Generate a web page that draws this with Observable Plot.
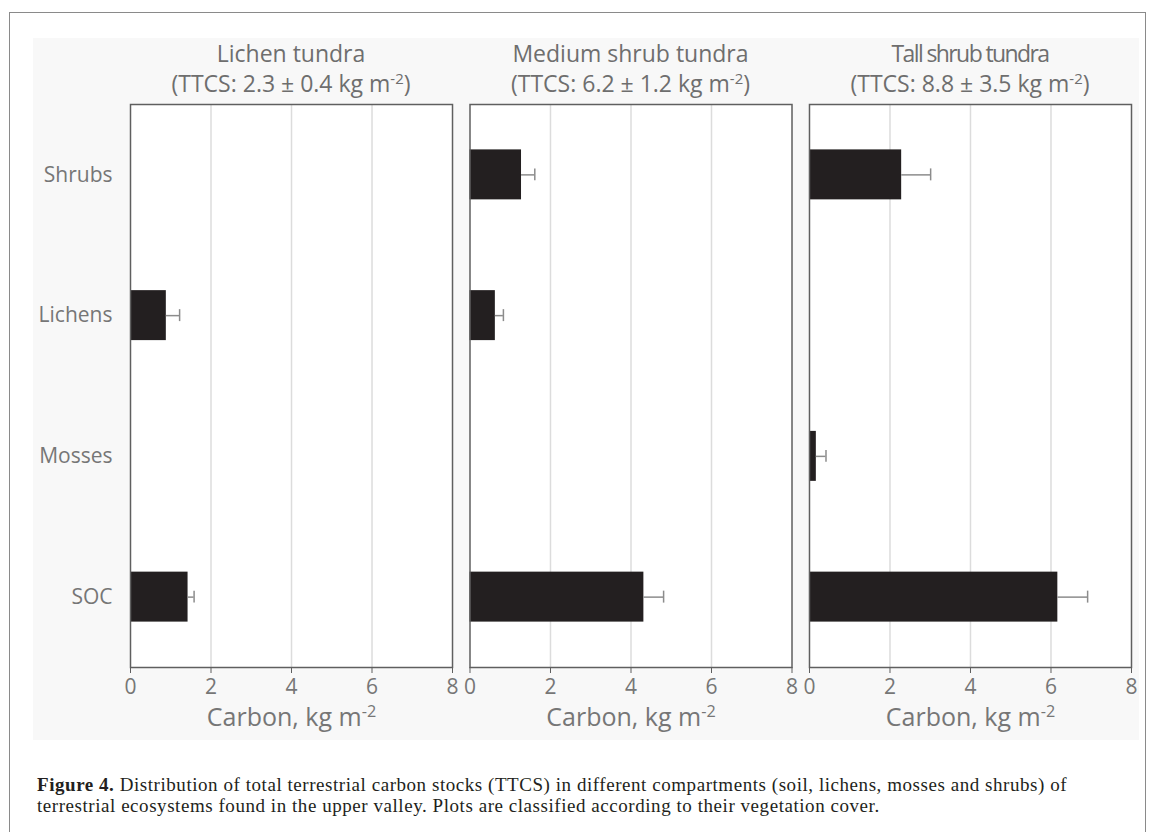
<!DOCTYPE html>
<html>
<head>
<meta charset="utf-8">
<script src="https://cdn.jsdelivr.net/npm/d3@7"></script>
<script src="https://cdn.jsdelivr.net/npm/@observablehq/plot@0.6"></script>
<style>
  body { margin: 0; background: #fff; width: 1153px; height: 832px; overflow: hidden; position: relative; font-family: "Open Sans", sans-serif; }
  #frame { position: absolute; left: 9px; top: 12px; width: 1137px; height: 900px; border: 1.5px solid #8a8a8a; box-sizing: border-box; }
  #bg { position: absolute; left: 33px; top: 38px; width: 1106px; height: 702px; background: #f8f8f8; }
  #chart { position: absolute; left: 0; top: 0; }
  .title { position: absolute; top: 38px; width: 360px; text-align: center; color: #6e6e6e; font-size: 23px; line-height: 30px; white-space: nowrap; }
  .title sup { font-size: 0.65em; vertical-align: 0.55em; line-height: 0; }
  .caption { position: absolute; left: 37px; font-family: "Liberation Serif", "DejaVu Serif", serif; font-size: 19px; letter-spacing: 0.55px; line-height: 20.5px; color: #231f20; white-space: nowrap; }
</style>
</head>
<body>
<div id="frame"></div>
<div id="bg"></div>
<div id="chart"></div>
<div id="titles"></div>
<div class="caption" id="cap1" style="top:775px"><b>Figure 4.</b> Distribution of total terrestrial carbon stocks (TTCS) in different compartments (soil, lichens, mosses and shrubs) of</div>
<div class="caption" id="cap2" style="top:795.5px">terrestrial ecosystems found in the upper valley. Plots are classified according to their vegetation cover.</div>
<script>
// ---- data ----
const panels = ["Lichen tundra", "Medium shrub tundra", "Tall shrub tundra"];
const ttcs = ["2.3 ± 0.4", "6.2 ± 1.2", "8.8 ± 3.5"];
const compartments = ["Shrubs", "Lichens", "Mosses", "SOC"];
const lichenTundra = [null, 0.89, null, 1.43];
const lichenTundraErr = [null, 0.33, null, 0.15];
const mediumShrub = [1.28, 0.63, null, 4.32];
const mediumShrubErr = [0.33, 0.20, null, 0.49];
const tallShrub = [2.29, null, 0.17, 6.17];
const tallShrubErr = [0.72, null, 0.24, 0.74];
const xTicks = [0, 2, 4, 6, 8];
const gridTicks = [2, 4, 6];
const axisLabel = "Carbon, kg m-2";

const series = [[lichenTundra, lichenTundraErr], [mediumShrub, mediumShrubErr], [tallShrub, tallShrubErr]];
const rows = [];
series.forEach(([vals, errs], i) => {
  vals.forEach((v, j) => {
    if (v != null) rows.push({panel: panels[i], compartment: compartments[j], value: v, err: errs[j]});
  });
});

const plot = Plot.plot({
  width: 1153,
  height: 760,
  marginTop: 104,
  marginBottom: 93,
  marginLeft: 130,
  marginRight: 22,
  style: {background: "transparent", fontFamily: "Open Sans, sans-serif", color: "#767676", overflow: "visible"},
  fx: {domain: panels, axis: null, paddingInner: 0.0515, paddingOuter: 0, round: false},
  x: {domain: [0, 8], label: null},
  y: {domain: compartments, paddingInner: 0.645, paddingOuter: 0.3225, round: false, label: null},
  marks: [
    Plot.frame({fill: "white", stroke: "none"}),
    Plot.ruleX(gridTicks, {stroke: "#dcdcdc", strokeWidth: 1.5}),
    Plot.barX(rows, {fx: "panel", y: "compartment", x: "value", fill: "#231f20"}),
    Plot.ruleY(rows, {fx: "panel", y: "compartment", x1: "value", x2: d => d.value + d.err, stroke: "#8c8c8c", strokeWidth: 1.5}),
    Plot.tickX(rows, {fx: "panel", y: "compartment", x: d => d.value + d.err, stroke: "#8c8c8c", strokeWidth: 1.5, insetTop: 19, insetBottom: 19}),
    Plot.frame({stroke: "#5f5f5f", strokeWidth: 1.5}),
    Plot.axisX({ticks: xTicks, tickSize: 6, tickPadding: 6, fontSize: 21, stroke: "#5f5f5f", label: null}),
    Plot.axisY({tickSize: 0, tickPadding: 18, fontSize: 21, label: null}),
    Plot.text(panels, {fx: d => d, text: () => axisLabel, frameAnchor: "bottom", dy: 58, fontSize: 25})
  ]
});
document.getElementById("chart").appendChild(plot);

// superscript in axis labels
d3.select(plot).selectAll("text").each(function () {
  if (this.textContent === axisLabel) {
    this.textContent = "Carbon, kg m";
    d3.select(this).append("tspan").attr("dy", "-0.5em").attr("font-size", "0.65em").text("-2");
  }
});

// panel titles positioned from the fx scale
const fx = plot.scale("fx");
const titles = document.getElementById("titles");
panels.forEach((p, i) => {
  const cx = fx.apply(p) + fx.bandwidth / 2;
  const div = document.createElement("div");
  div.className = "title";
  div.style.left = (cx - 180) + "px";
  const ls = i === 2 ? "letter-spacing:-1.6px;" : "";
  div.innerHTML = `<span style="${ls}">${p}</span><br>(TTCS: ${ttcs[i]} kg m<sup>-2</sup>)`;
  titles.appendChild(div);
});
</script>
</body>
</html>
